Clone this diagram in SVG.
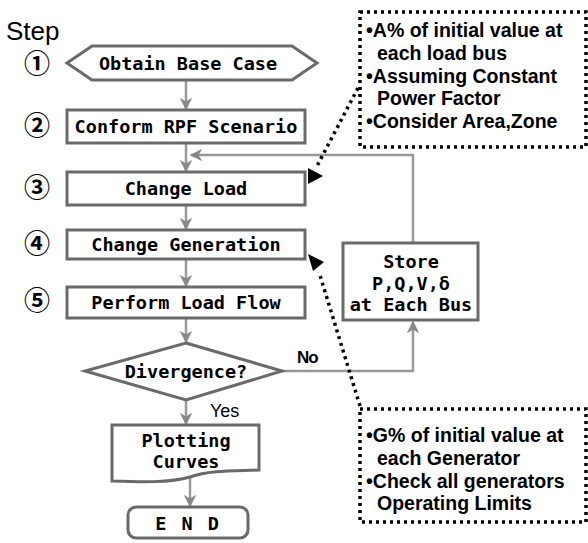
<svg xmlns="http://www.w3.org/2000/svg" width="588" height="543" viewBox="0 0 588 543">
<defs>
<style>
.box{fill:#fff;stroke:#6a6a6a;stroke-width:3}
.t{font-family:"DejaVu Sans Mono","Liberation Mono",monospace;font-weight:bold;font-size:18.5px;fill:#000;text-anchor:middle}
.num{font-family:"Noto Sans CJK KR","DejaVu Sans",sans-serif;font-weight:bold;font-size:26px;fill:#000;text-anchor:middle}
.conn{fill:none;stroke:#999;stroke-width:2.5}
.dot{fill:none;stroke:#000;stroke-width:3.5;stroke-dasharray:3 4}
.note{font-family:"Liberation Sans",Arial,sans-serif;font-weight:bold;font-size:19.5px;fill:#000}
.lbl{font-family:"Liberation Sans",Arial,sans-serif;fill:#000}
</style>
<marker id="ga" viewBox="0 0 10 10" refX="9" refY="5" markerWidth="5" markerHeight="5" orient="auto" markerUnits="strokeWidth">
<path d="M0,0 L10,5 L0,10 L3,5 Z" fill="#888"/>
</marker>
</defs>
<rect width="588" height="543" fill="#fff"/>
<text class="lbl" x="6" y="40" font-size="26">Step</text>
<g id="steps">
<text class="num" x="37" y="73">①</text>
<text class="num" x="37" y="135">②</text>
<text class="num" x="37" y="197">③</text>
<text class="num" x="37" y="253">④</text>
<text class="num" x="37" y="310">⑤</text>
</g>
<g id="connectors">
<path class="conn" d="M186,80 V109" marker-end="url(#ga)"/>
<path class="conn" d="M186,143 V171" marker-end="url(#ga)"/>
<path class="conn" d="M186,205 V229" marker-end="url(#ga)"/>
<path class="conn" d="M186,259 V286" marker-end="url(#ga)"/>
<path class="conn" d="M186,318 V342" marker-end="url(#ga)"/>
<path class="conn" d="M186,400 V424" marker-end="url(#ga)"/>
<path class="conn" d="M190,477 V506" marker-end="url(#ga)"/>
<path class="conn" d="M282,371 H413 V322" marker-end="url(#ga)"/>
<path class="conn" d="M413,243 V155 H191" marker-end="url(#ga)"/>
<path class="dot" d="M358,88 L317,166"/>
<polygon points="308,168 323,176 308,184" fill="#000"/>
<path class="dot" d="M360,406 L319,272"/>
<polygon points="308,254 324,262 313,271" fill="#000"/>
<text class="lbl" x="297" y="363" font-size="17" font-weight="bold" letter-spacing="-1">No</text>
<text class="lbl" x="210" y="417" font-size="18">Yes</text>
</g>
<g id="n1">
<polygon class="box" points="67,63 92,46 292,46 317,63 292,80 92,80"/>
<text class="t" x="188" y="70">Obtain Base Case</text>
</g>
<g id="n2">
<rect class="box" x="67" y="110" width="238" height="33"/>
<text class="t" x="186" y="133">Conform RPF Scenario</text>
</g>
<g id="n3">
<rect class="box" x="67" y="172" width="238" height="33"/>
<text class="t" x="186" y="195">Change Load</text>
</g>
<g id="n4">
<rect class="box" x="67" y="230" width="238" height="29"/>
<text class="t" x="186" y="251">Change Generation</text>
</g>
<g id="n5">
<rect class="box" x="67" y="287" width="238" height="31"/>
<text class="t" x="186" y="309">Perform Load Flow</text>
</g>
<g id="n6">
<polygon class="box" points="186,343 282,371 186,400 85,371"/>
<text class="t" x="186" y="378">Divergence?</text>
</g>
<g id="n7">
<path class="box" d="M112,425 H259 V470 C235,471 210,470 190,477 C170,483 140,482 112,481 Z"/>
<text class="t" x="186" y="447">Plotting</text>
<text class="t" x="186" y="468">Curves</text>
</g>
<g id="n8">
<rect class="box" x="128" y="507" width="120" height="31" rx="8"/>
<text class="t" x="188" y="530" letter-spacing="2">E N D</text>
</g>
<g id="n9">
<rect class="box" x="343" y="243" width="135" height="77"/>
<text class="t" x="411" y="268">Store</text>
<text class="t" x="411" y="290">P,Q,V,δ</text>
<text class="t" x="411" y="311">at Each Bus</text>
</g>
<g id="c1">
<rect class="dot" x="360" y="12" width="226" height="135"/>
<text class="note" x="366" y="37">•A% of initial value at</text>
<text class="note" x="377" y="60">each load bus</text>
<text class="note" x="366" y="83">•Assuming Constant</text>
<text class="note" x="377" y="105">Power Factor</text>
<text class="note" x="366" y="128">•Consider Area,Zone</text>
</g>
<g id="c2">
<rect class="dot" x="360" y="409" width="226" height="113"/>
<text class="note" x="366" y="442">•G% of initial value at</text>
<text class="note" x="377" y="465">each Generator</text>
<text class="note" x="366" y="488">•Check all generators</text>
<text class="note" x="377" y="510">Operating Limits</text>
</g>
</svg>
